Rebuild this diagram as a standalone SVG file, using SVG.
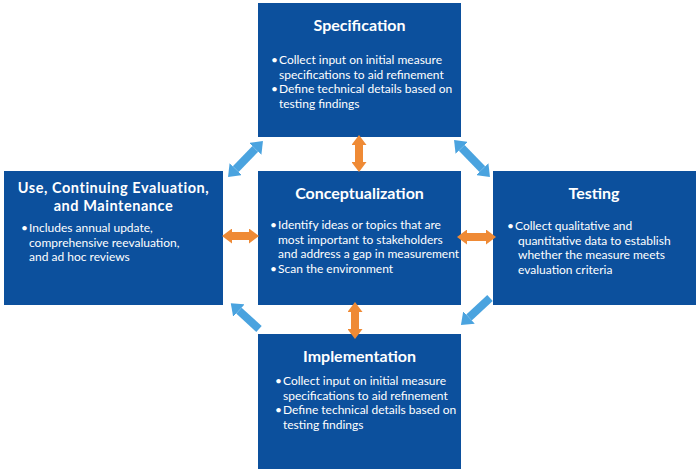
<svg xmlns="http://www.w3.org/2000/svg" width="700" height="474" viewBox="0 0 700 474">
<defs>
<style>
.box{fill:#0c509d;}
.title{font-family:Lato,"Open Sans","Liberation Sans",sans-serif;font-weight:bold;font-size:16px;fill:#ffffff;text-anchor:middle;}
.title2{font-size:14.5px;letter-spacing:0.55px;}
.body{font-family:Lato,"Open Sans","Liberation Sans",sans-serif;font-size:12px;fill:#ffffff;}
.blue{stroke:#4aa3df;stroke-width:8;fill:none;}
.orange{stroke:#ef8a35;stroke-width:8;fill:none;}
</style>
<marker id="hb" markerUnits="userSpaceOnUse" markerWidth="11" markerHeight="17" refX="0" refY="8.5" orient="auto-start-reverse" viewBox="0 0 11 17"><path d="M0,0 L11,8.5 L0,17 Z" fill="#4aa3df"/></marker>
<marker id="ho" markerUnits="userSpaceOnUse" markerWidth="10" markerHeight="15" refX="0" refY="7.5" orient="auto-start-reverse" viewBox="0 0 10 15"><path d="M0,0 L10,7.5 L0,15 Z" fill="#ef8a35"/></marker>
</defs>
<rect width="700" height="474" fill="#ffffff"/>
<g id="specification">
<rect class="box" x="258" y="3" width="203" height="134"/>
<text class="title" x="359.5" y="31">Specification</text>
<text class="body"><tspan x="271" y="64">•</tspan><tspan x="279" y="64">Collect input on initial measure</tspan><tspan x="279" y="78.5">specifications to aid refinement</tspan><tspan x="271" y="93">•</tspan><tspan x="279" y="93">Define technical details based on</tspan><tspan x="279" y="107.5">testing findings</tspan></text>
</g>
<g id="conceptualization">
<rect class="box" x="258" y="171" width="203" height="134"/>
<text class="title" x="359.5" y="199">Conceptualization</text>
<text class="body"><tspan x="270" y="229">•</tspan><tspan x="278" y="229">Identify ideas or topics that are</tspan><tspan x="278" y="243.5">most important to stakeholders</tspan><tspan x="278" y="258">and address a gap in measurement</tspan><tspan x="270" y="272.5">•</tspan><tspan x="278" y="272.5">Scan the environment</tspan></text>
</g>
<g id="use">
<rect class="box" x="4" y="171" width="219" height="134"/>
<text class="title title2" x="113.5" y="193">Use, Continuing Evaluation,</text>
<text class="title title2" x="113.5" y="210.5">and Maintenance</text>
<text class="body"><tspan x="21" y="232">•</tspan><tspan x="29" y="232">Includes annual update,</tspan><tspan x="29" y="246.5">comprehensive reevaluation,</tspan><tspan x="29" y="261">and ad hoc reviews</tspan></text>
</g>
<g id="testing">
<rect class="box" x="493" y="171" width="203" height="134"/>
<text class="title" x="594" y="199">Testing</text>
<text class="body"><tspan x="507" y="230">•</tspan><tspan x="515" y="230">Collect qualitative and</tspan><tspan x="518" y="244.5">quantitative data to establish</tspan><tspan x="518" y="259">whether the measure meets</tspan><tspan x="518" y="273.5">evaluation criteria</tspan></text>
</g>
<g id="implementation">
<rect class="box" x="258" y="334" width="203" height="135"/>
<text class="title" x="359.5" y="362">Implementation</text>
<text class="body"><tspan x="275" y="385">•</tspan><tspan x="283" y="385">Collect input on initial measure</tspan><tspan x="283" y="399.5">specifications to aid refinement</tspan><tspan x="275" y="414">•</tspan><tspan x="283" y="414">Define technical details based on</tspan><tspan x="283" y="428.5">testing findings</tspan></text>
</g>
<g id="connectors">
<line class="blue" x1="235.7" y1="169.1" x2="255.3" y2="148.9" marker-start="url(#hb)" marker-end="url(#hb)"/>
<line class="blue" x1="461.7" y1="147.9" x2="482.3" y2="169.1" marker-start="url(#hb)" marker-end="url(#hb)"/>
<line class="blue" x1="259" y1="329" x2="238.9" y2="310.6" marker-end="url(#hb)"/>
<line class="blue" x1="490" y1="298" x2="469" y2="317.5" marker-end="url(#hb)"/>
<line class="orange" x1="359" y1="145" x2="359" y2="162" marker-start="url(#ho)" marker-end="url(#ho)"/>
<line class="orange" x1="355" y1="312" x2="355" y2="329" marker-start="url(#ho)" marker-end="url(#ho)"/>
<line class="orange" x1="232" y1="236" x2="249" y2="236" marker-start="url(#ho)" marker-end="url(#ho)"/>
<line class="orange" x1="467" y1="237" x2="486" y2="237" marker-start="url(#ho)" marker-end="url(#ho)"/>
</g>
</svg>
